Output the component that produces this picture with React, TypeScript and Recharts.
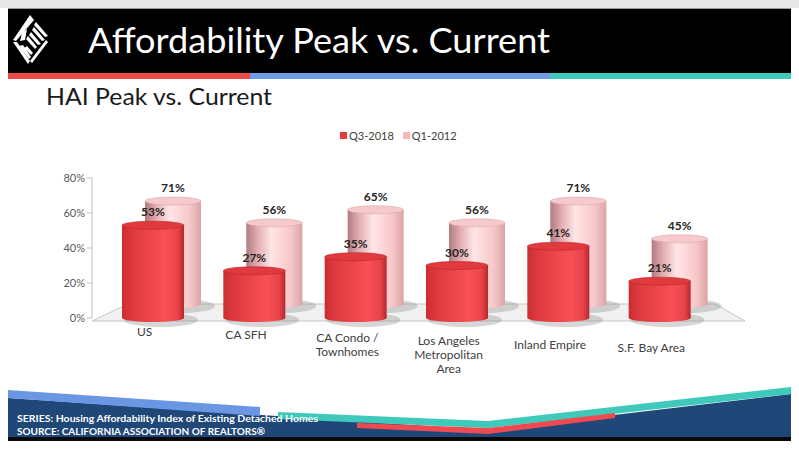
import React from "react"
import { BarChart, Bar, XAxis, YAxis, LabelList, Text } from "recharts"

// chart values
const categories = ["US", "CA SFH", "CA Condo / Townhomes", "Los Angeles Metropolitan Area", "Inland Empire", "S.F. Bay Area"]
const q32018 = [0.53, 0.27, 0.35, 0.3, 0.41, 0.21]
const q12012 = [0.71, 0.56, 0.65, 0.56, 0.71, 0.45]
const yTicks = [0, 0.2, 0.4, 0.6, 0.8]

const data = categories.map((name, i) => ({ name, q3: q32018[i], q1: q12012[i] }))

const FONT = "Lato, 'Open Sans', sans-serif"
const pct = (v: any) => `${Math.round(Number(v) * 100)}%`

function Cylinder(props: any) {
  const { x, y, width, height, kind } = props
  if (width == null || height == null) return null
  const rx = width / 2
  const ry = 4
  const cx = x + rx
  const body = kind === "front" ? "url(#redBody)" : "url(#pinkBody)"
  const top = kind === "front" ? "#e2393e" : "#f6c9cb"
  const edge = kind === "front" ? "#b52a2e" : "#d9a9ac"
  return (
    <g>
      <ellipse cx={cx + 8} cy={y + height + 2} rx={rx + 6} ry={ry + 3} fill="#8c8c8c" opacity={0.35} />
      <rect x={x} y={y} width={width} height={height} fill={body} />
      <ellipse cx={cx} cy={y + height} rx={rx} ry={ry} fill={body} />
      <ellipse cx={cx} cy={y} rx={rx} ry={ry} fill={top} stroke={edge} strokeWidth={0.6} />
    </g>
  )
}

function CategoryTick(props: any) {
  const { x, y, payload } = props
  // labels follow the slanted floor edge
  const drop = (x - 92) * 0.03
  return (
    <Text
      x={x - 8}
      y={y + drop}
      width={100}
      textAnchor="middle"
      verticalAnchor="start"
      fill="#404040"
      fontSize={12}
      fontFamily={FONT}
      lineHeight={14}
    >
      {payload.value}
    </Text>
  )
}

function Slide() {
  return (
    <svg width={799} height={449} style={{ position: "absolute", left: 0, top: 0 }}>
      <defs>
        <linearGradient id="redBody" x1="0" y1="0" x2="1" y2="0">
          <stop offset="0" stopColor="#c92e33" />
          <stop offset="0.15" stopColor="#dc383d" />
          <stop offset="0.7" stopColor="#f85055" />
          <stop offset="0.9" stopColor="#e8434a" />
          <stop offset="1" stopColor="#b5282d" />
        </linearGradient>
        <linearGradient id="pinkBody" x1="0" y1="0" x2="1" y2="0">
          <stop offset="0" stopColor="#b07a80" />
          <stop offset="0.2" stopColor="#e2adb1" />
          <stop offset="0.45" stopColor="#ffe6e7" />
          <stop offset="0.8" stopColor="#f8c6c8" />
          <stop offset="1" stopColor="#d9a4a7" />
        </linearGradient>
      </defs>
      <rect x={0} y={0} width={799} height={8} fill="#e8e8e8" />
      <rect x={8} y={8} width={783} height={433} fill="#ffffff" />
      {/* header band */}
      <rect x={8} y={8} width={783} height={65} fill="#000000" />
      <line x1={8} y1={8.5} x2={791} y2={8.5} stroke="#9a9a9a" strokeWidth={1} />
      <rect x={8} y={73} width={242} height={6} fill="#ef4b4b" />
      <rect x={250} y={73} width={300} height={6} fill="#6f9be6" />
      <rect x={550} y={73} width={241} height={6} fill="#3ec9bb" />
      {/* logo: diamond with fanned rays */}
      <g fill="#ffffff">
        <polygon points="30,15 34,20 16,41 13,40" />
        <polygon points="13,42 17,42 30,61 28,64" />
        <polygon points="19,46 23,45 31,57 29,59" />
        <polygon points="24,48 27,46 33,53 31,55" />
        <polygon points="36,22 48,36 45,37 34,25" />
        <polygon points="34,27 45,40 42,41 32,30" />
        <polygon points="31,32 41,44 38,45 29,35" />
        <polygon points="28,36 37,47 35,49 26,39" />
        <polygon points="46,40 48,42 32,63 30,61" />
        <polygon points="22,33 27,29 25,40 20,41" />
      </g>
      <text x={88} y={53} fill="#ffffff" fontSize={35} fontFamily={FONT} textLength={462} lengthAdjust="spacingAndGlyphs">
        Affordability Peak vs. Current
      </text>
      <text x={46} y={105} fill="#1a1a1a" fontSize={23} fontFamily={FONT} textLength={226} lengthAdjust="spacingAndGlyphs">
        HAI Peak vs. Current
      </text>
      {/* 3D floor */}
      <polygon points="92,321 745,321 715,304 128,304" fill="#f1f1f1" stroke="#c4c4c4" strokeWidth={1} />
      {/* footer */}
      <polygon points="8,398 488,430 791,394 791,437 8,437" fill="#1f4778" />
      <polygon points="8,390 260,407 260,416 8,398" fill="#6b96e3" />
      <polygon points="278,412 488,421 791,387 791,394 488,428 278,419" fill="#3ec9bb" />
      <polygon points="357,423 488,428 615,413 615,418 488,434 357,428" fill="#ee4a4f" />
      <rect x={8} y={437} width={783} height={4} fill="#0a0a0a" />
      <text x={17} y={422} fill="#ffffff" fontSize={10} fontWeight="bold" fontFamily={FONT} textLength={301} lengthAdjust="spacingAndGlyphs">
        SERIES: Housing Affordability Index of Existing Detached Homes
      </text>
      <text x={17} y={435} fill="#ffffff" fontSize={10} fontWeight="bold" fontFamily={FONT} textLength={248} lengthAdjust="spacingAndGlyphs">
        SOURCE:  CALIFORNIA ASSOCIATION OF REALTORS®
      </text>
    </svg>
  )
}

function LegendBox() {
  const item = (color: string, label: string) => (
    <span style={{ display: "inline-flex", alignItems: "center", marginRight: 9 }}>
      <span style={{ width: 7, height: 7, background: color, display: "inline-block", marginRight: 2 }} />
      <span>{label}</span>
    </span>
  )
  return (
    <div
      style={{
        position: "absolute",
        left: 340,
        top: 128,
        fontFamily: FONT,
        fontSize: 11,
        color: "#404040",
        whiteSpace: "nowrap",
      }}
    >
      {item("#e8393f", "Q3-2018")}
      {item("#f7b8ba", "Q1-2012")}
    </div>
  )
}

export default function App() {
  return (
    <div style={{ position: "absolute", left: 0, top: 0, width: 799, height: 449, overflow: "hidden", background: "#fff" }}>
      <Slide />
      <div style={{ position: "absolute", left: 0, top: 0 }}>
        <BarChart width={799} height={449} data={data} margin={{ top: 178, right: 64, bottom: 91, left: 52 }}>
          <XAxis
            xAxisId="front"
            dataKey="name"
            axisLine={false}
            tickLine={false}
            height={40}
            interval={0}
            padding={{ left: 10, right: 25 }}
            tick={<CategoryTick />}
          />
          <XAxis xAxisId="back" dataKey="name" hide orientation="top" height={0} padding={{ left: 30, right: 5 }} />
          <YAxis
            yAxisId="front"
            width={40}
            domain={[0, 0.8]}
            ticks={yTicks}
            tickFormatter={pct}
            axisLine={{ stroke: "#bfbfbf" }}
            tickLine={{ stroke: "#bfbfbf" }}
            tickSize={5}
            tick={{ fill: "#595959", fontSize: 11, fontFamily: FONT }}
          />
          <YAxis yAxisId="back" hide orientation="right" width={0} domain={[0, 0.8]} padding={{ top: 10, bottom: 14 }} />
          <Bar
            dataKey="q1"
            name="Q1-2012"
            xAxisId="back"
            yAxisId="back"
            barSize={56}
            fill="#f7b8ba"
            isAnimationActive={false}
            shape={(p: any) => <Cylinder {...p} kind="back" />}
          >
            <LabelList dataKey="q1" position="top" offset={9} formatter={pct} fill="#262626" fontSize={12} fontWeight="bold" fontFamily={FONT} />
          </Bar>
          <Bar
            dataKey="q3"
            name="Q3-2018"
            xAxisId="front"
            yAxisId="front"
            barSize={62}
            fill="#e8393f"
            isAnimationActive={false}
            shape={(p: any) => <Cylinder {...p} kind="front" />}
          >
            <LabelList dataKey="q3" position="top" offset={9} formatter={pct} fill="#262626" fontSize={12} fontWeight="bold" fontFamily={FONT} />
          </Bar>
        </BarChart>
      </div>
      <LegendBox />
    </div>
  )
}
